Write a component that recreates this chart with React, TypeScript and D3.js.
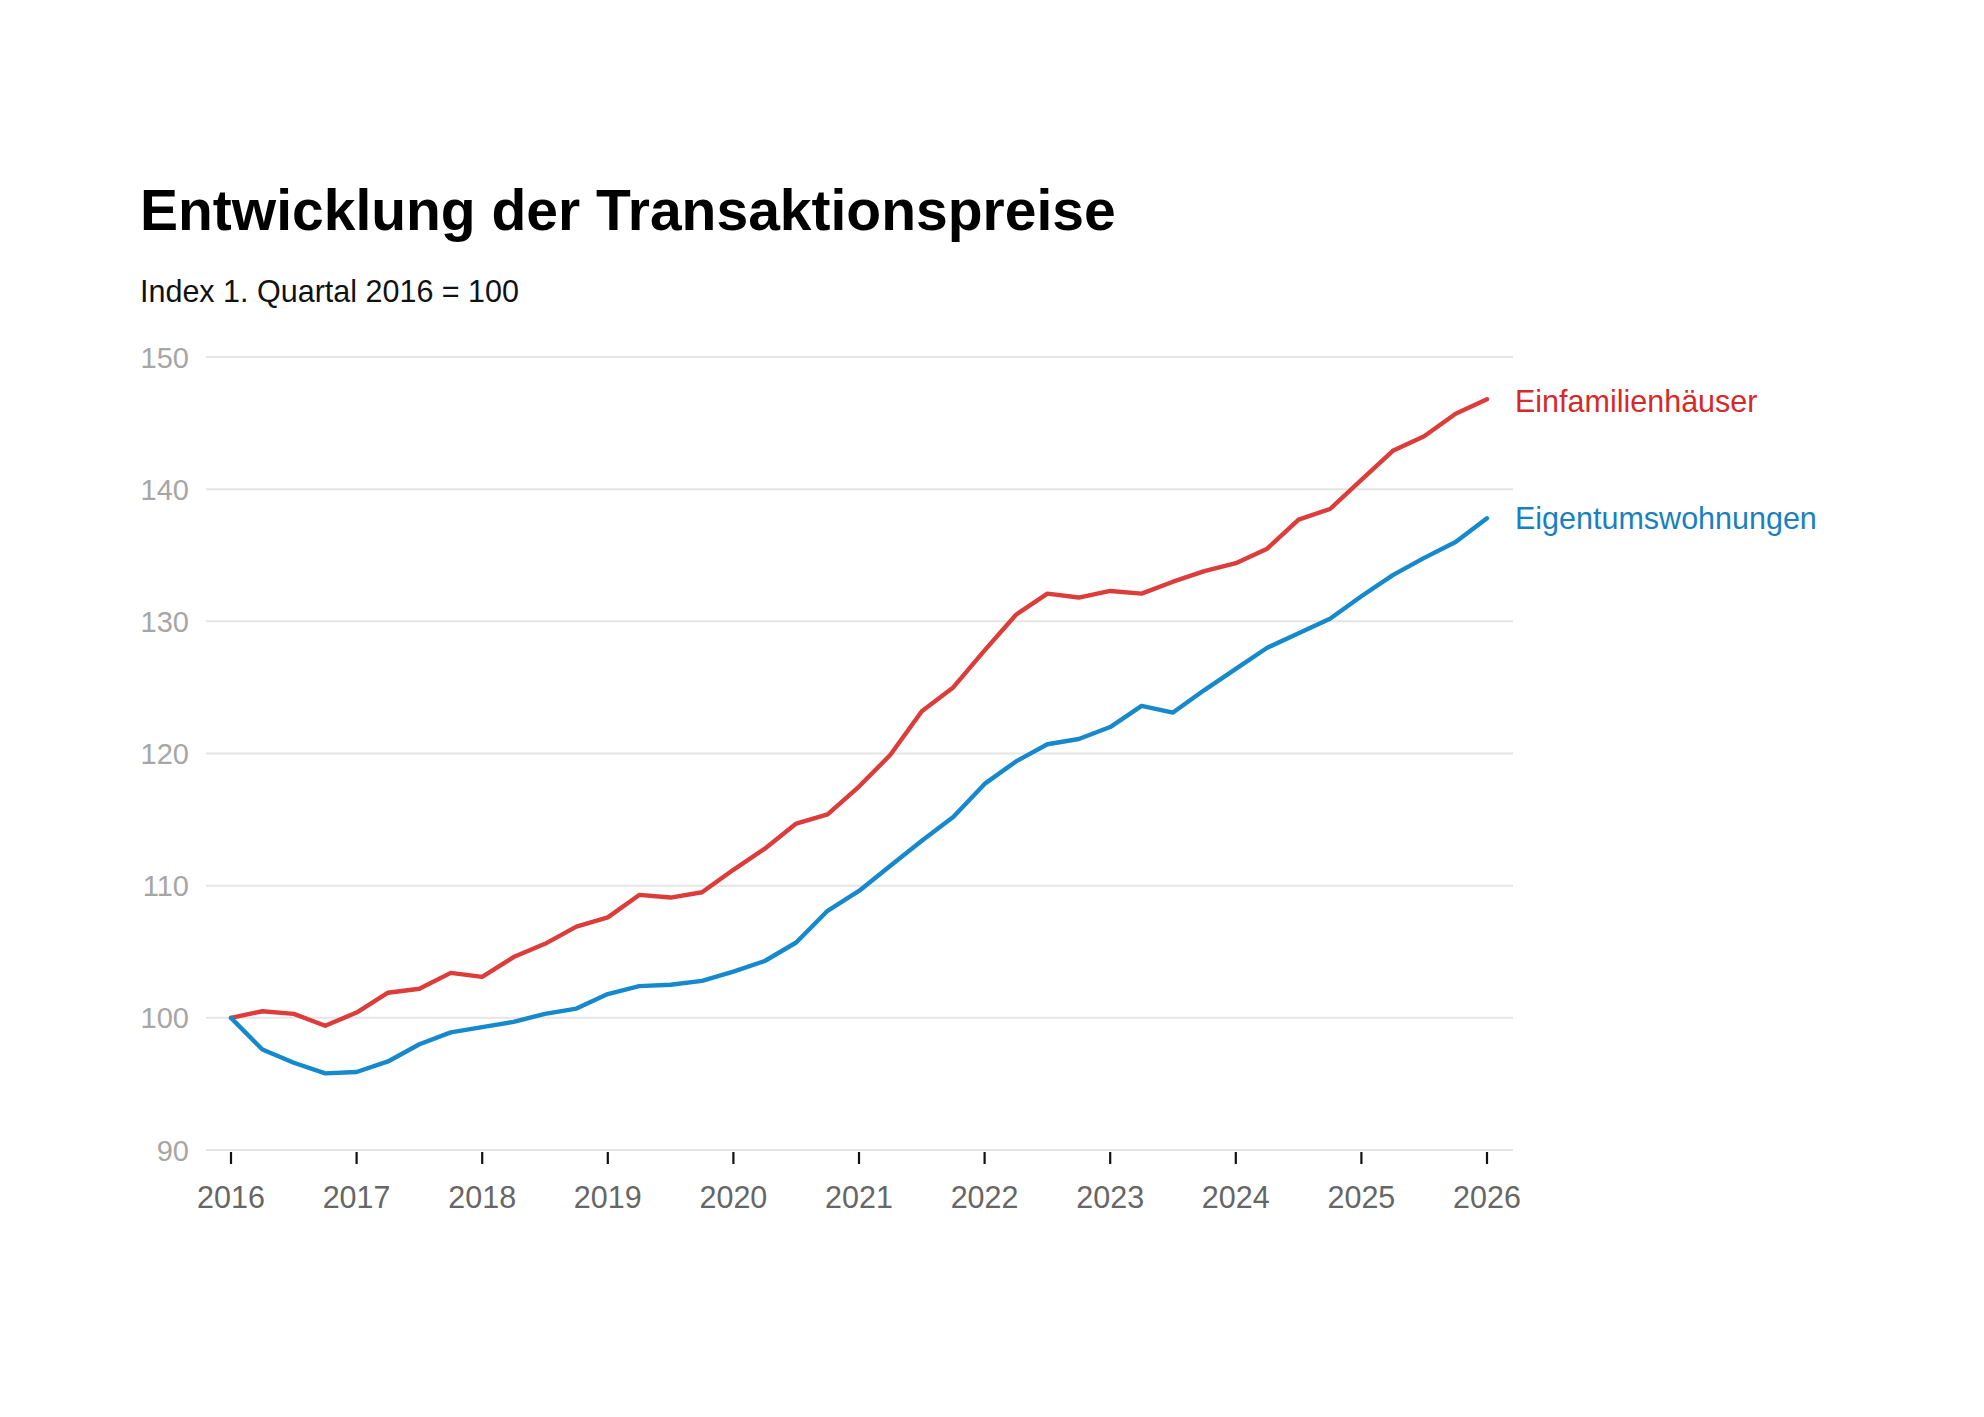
import React from "react";
import * as d3 from "d3";

const W = 1984;
const H = 1417;

const title = "Entwicklung der Transaktionspreise";
const subtitle = "Index 1. Quartal 2016 = 100";

const quarters: number[] = d3.range(0, 41).map((i) => 2016 + i / 4);

const einfamilienhaeuser = [
  100, 100.5, 100.3, 99.4, 100.4, 101.9, 102.2, 103.4, 103.1, 104.6, 105.6,
  106.9, 107.6, 109.3, 109.1, 109.5, 111.2, 112.8, 114.7, 115.4, 117.5, 119.9,
  123.2, 125.0, 127.8, 130.5, 132.1, 131.8, 132.3, 132.1, 133.0, 133.8, 134.4,
  135.5, 137.7, 138.5, 140.7, 142.9, 144.0, 145.7, 146.8,
];

const eigentumswohnungen = [
  100, 97.6, 96.6, 95.8, 95.9, 96.7, 98.0, 98.9, 99.3, 99.7, 100.3, 100.7,
  101.8, 102.4, 102.5, 102.8, 103.5, 104.3, 105.7, 108.1, 109.6, 111.5, 113.4,
  115.2, 117.7, 119.4, 120.7, 121.1, 122.0, 123.6, 123.1, 124.8, 126.4, 128.0,
  129.1, 130.2, 131.9, 133.5, 134.8, 136.0, 137.8,
];

const seriesNames = ["Einfamilienhäuser", "Eigentumswohnungen"];
const seriesColors = ["#dc3c3a", "#1589cb"];
const labelColors = ["#d42a2a", "#1a7fc1"];

const yTicks = [90, 100, 110, 120, 130, 140, 150];
const xTicks = d3.range(2016, 2027);

export default function App() {
  const x = d3.scaleLinear().domain([2016, 2026]).range([231, 1487]);
  const y = d3.scaleLinear().domain([90, 150]).range([1150, 357]);
  const gridX0 = 206;
  const gridX1 = 1513;
  const labelDy = [13, 11];

  const line = d3
    .line<number>()
    .x((_, i) => x(quarters[i]))
    .y((d) => y(d));

  const series = [einfamilienhaeuser, eigentumswohnungen];
  const font = "'Liberation Sans', Arial, Helvetica, sans-serif";

  return (
    <svg
      width={W}
      height={H}
      viewBox={`0 0 ${W} ${H}`}
      style={{ position: "absolute", left: 0, top: 0, background: "#fff" }}
      fontFamily={font}
    >
      <rect x={0} y={0} width={W} height={H} fill="#fff" />
      <text x={140} y={230} fontSize={57} fontWeight="bold" fill="#000">
        {title}
      </text>
      <text x={140} y={302} fontSize={30.5} fill="#111">
        {subtitle}
      </text>

      {yTicks.map((t) => (
        <g key={t}>
          <line
            x1={gridX0}
            x2={gridX1}
            y1={y(t)}
            y2={y(t)}
            stroke="#e5e5e5"
            strokeWidth={2}
          />
          <text
            x={189}
            y={y(t) + 10.5}
            textAnchor="end"
            fontSize={29}
            fill="#a6a6a6"
          >
            {t}
          </text>
        </g>
      ))}

      {xTicks.map((t) => (
        <g key={t}>
          <line
            x1={x(t)}
            x2={x(t)}
            y1={1152}
            y2={1164}
            stroke="#111"
            strokeWidth={2.2}
          />
          <text
            x={x(t)}
            y={1208}
            textAnchor="middle"
            fontSize={30.5}
            fill="#666"
          >
            {t}
          </text>
        </g>
      ))}

      {series.map((s, i) => (
        <path
          key={seriesNames[i]}
          d={line(s) || ""}
          fill="none"
          stroke={seriesColors[i]}
          strokeWidth={4.4}
          strokeLinejoin="round"
          strokeLinecap="round"
        />
      ))}

      {series.map((s, i) => (
        <text
          key={"lbl" + i}
          x={1515}
          y={y(s[s.length - 1]) + labelDy[i]}
          fontSize={30.5}
          fill={labelColors[i]}
        >
          {seriesNames[i]}
        </text>
      ))}
    </svg>
  );
}
